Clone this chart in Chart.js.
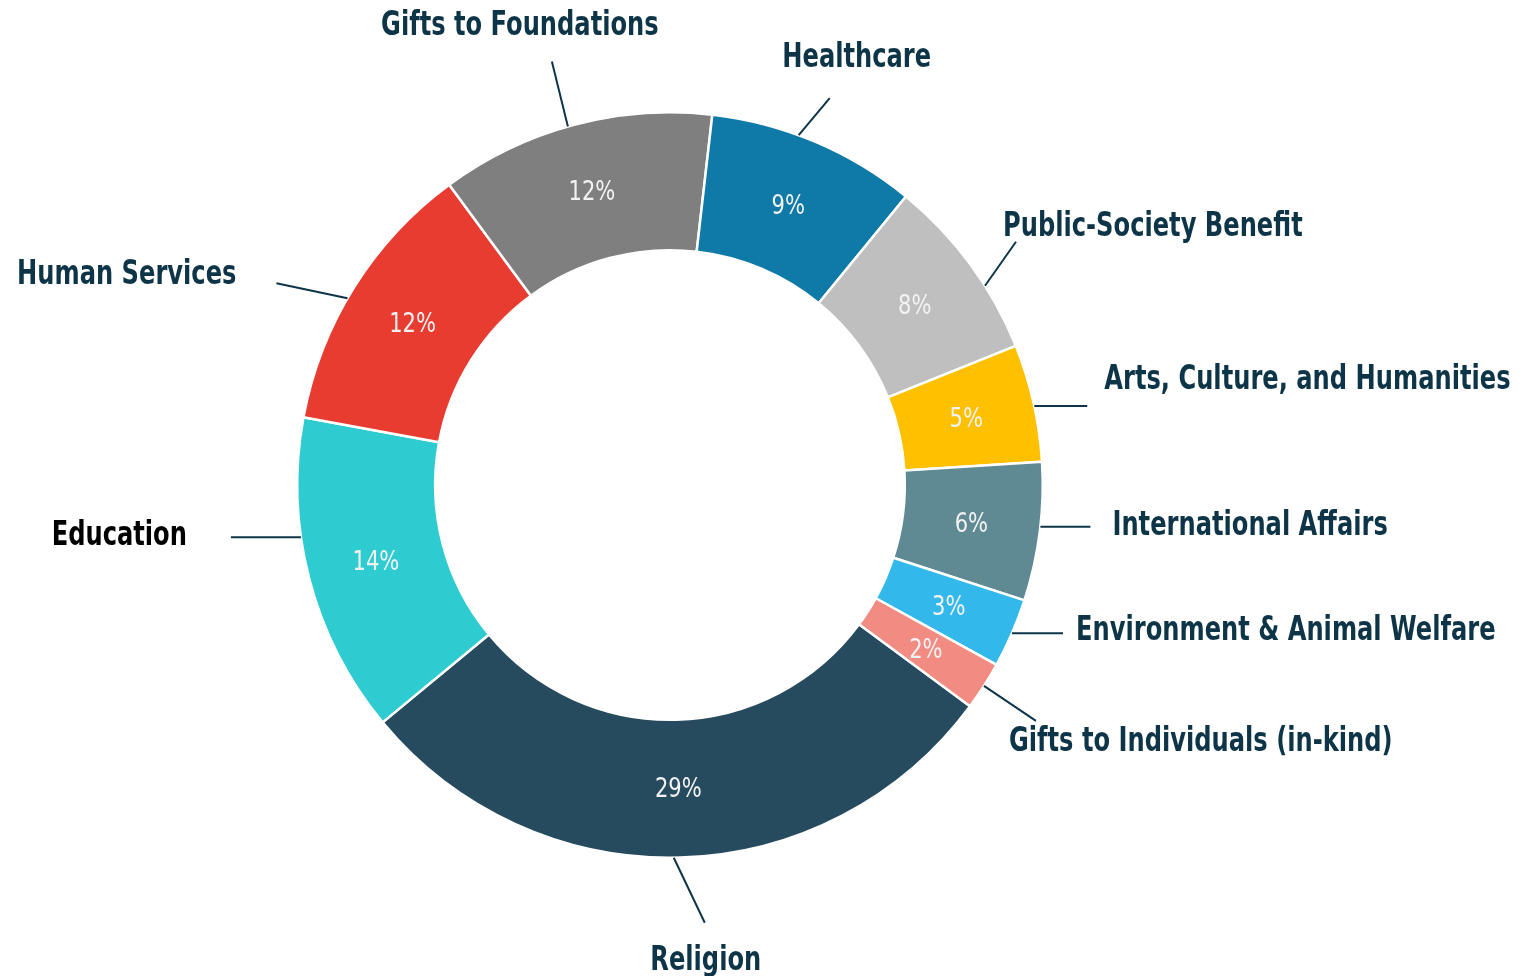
<!DOCTYPE html>
<html>
<head>
<meta charset="utf-8">
<script src="https://cdn.jsdelivr.net/npm/chart.js@4/dist/chart.umd.min.js"></script>
<style>
  body { margin: 0; background: #fff; }
</style>
</head>
<body>
<canvas id="givingChart" width="1525" height="976"></canvas>
<script>
// share of giving by recipient (%)
const categories = [
  "Religion", "Education", "Human Services", "Gifts to Foundations", "Healthcare",
  "Public-Society Benefit", "Arts, Culture, and Humanities", "International Affairs",
  "Environment & Animal Welfare", "Gifts to Individuals (in-kind)"
];
const shares = [28.9, 13.9, 12.0, 11.9, 9.1, 8.0, 5.1, 6.0, 3.0, 2.1];
const sliceColors = [
  "#264a5e", "#2ecbd1", "#e83c31", "#7f7f7f", "#0f7aa8",
  "#bfbfbf", "#ffc000", "#5f8a94", "#33b8ec", "#f28b82"
];
const labelColors = [
  "#0d3547", "#000000", "#0d3547", "#0d3547", "#0d3547",
  "#0d3547", "#0d3547", "#0d3547", "#0d3547", "#0d3547"
];

// leader line layout: angle tweak (deg), line vector, text offset from line end, alignment
const leaderLayout = [
  { tweak: 1, line: [31, 65], text: [1, 38], align: "center" },
  { tweak: 6.5, line: [-70, 0], text: [-44, -1], align: "right" },
  { tweak: -2, line: [-71, -15], text: [-40, -8], align: "right" },
  { tweak: -1, line: [-16, -65], text: [-32, -35], align: "center" },
  { tweak: -2.7, line: [31, -37], text: [27, -40], align: "center" },
  { tweak: 4, line: [31, -44], text: [-13, -15], align: "left" },
  { tweak: 0.5, line: [53, 0], text: [17, -26], align: "left" },
  { tweak: -0.8, line: [50, 0], text: [22, -1], align: "left" },
  { tweak: 0, line: [51, 0], text: [13, -2], align: "left" },
  { tweak: 0, line: [52, 35], text: [-27, 21], align: "left" }
];

// no narrow font installed, so squeeze the text horizontally
const labelFont = "bold 34px 'DejaVu Sans Condensed', sans-serif";
const labelSqueeze = 0.79;
const pctFont = "26px 'DejaVu Sans Condensed', sans-serif";
const pctSqueeze = 0.9;

function drawSqueezed(ctx, text, x, y, squeeze) {
  ctx.save();
  ctx.translate(x, y);
  ctx.scale(squeeze, 1);
  ctx.fillText(text, 0, 0);
  ctx.restore();
}

const sliceLabels = {
  id: "sliceLabels",
  afterDraw: function (chart) {
    const ctx = chart.ctx;
    const meta = chart.getDatasetMeta(0);
    const total = shares.reduce(function (a, b) { return a + b; }, 0);
    ctx.save();
    meta.data.forEach(function (arc, i) {
      const p = arc.getProps(["x", "y", "startAngle", "endAngle", "outerRadius"], true);
      // percentage inside the ring
      const c = arc.tooltipPosition(true);
      ctx.font = pctFont;
      ctx.fillStyle = "#f2f2f2";
      ctx.textAlign = "center";
      ctx.textBaseline = "middle";
      drawSqueezed(ctx, Math.round(shares[i] / total * 100) + "%", c.x, c.y + 2, pctSqueeze);

      // leader line and category name
      const lay = leaderLayout[i];
      const mid = (p.startAngle + p.endAngle) / 2 + lay.tweak * Math.PI / 180;
      const sx = p.x + Math.cos(mid) * p.outerRadius;
      const sy = p.y + Math.sin(mid) * p.outerRadius;
      const ex = sx + lay.line[0];
      const ey = sy + lay.line[1];
      ctx.strokeStyle = "#0d3547";
      ctx.lineWidth = 2;
      ctx.beginPath();
      ctx.moveTo(sx, sy);
      ctx.lineTo(ex, ey);
      ctx.stroke();
      ctx.font = labelFont;
      ctx.fillStyle = labelColors[i];
      ctx.textAlign = lay.align;
      drawSqueezed(ctx, categories[i], ex + lay.text[0], ey + lay.text[1], labelSqueeze);
    });
    ctx.restore();
  }
};

const ctx = document.getElementById("givingChart").getContext("2d");
const givingChart = new Chart(ctx, {
  type: "doughnut",
  data: {
    labels: categories,
    datasets: [
      {
        data: shares,
        backgroundColor: sliceColors,
        borderColor: "#ffffff",
        borderWidth: 2.5
      }
    ]
  },
  options: {
    responsive: false,
    animation: false,
    rotation: 126.4,
    cutout: "63%",
    layout: {
      padding: { top: 111, bottom: 117, left: 296, right: 481 }
    },
    plugins: {
      legend: { display: false },
      tooltip: { enabled: false }
    }
  },
  plugins: [sliceLabels]
});
</script>
</body>
</html>
